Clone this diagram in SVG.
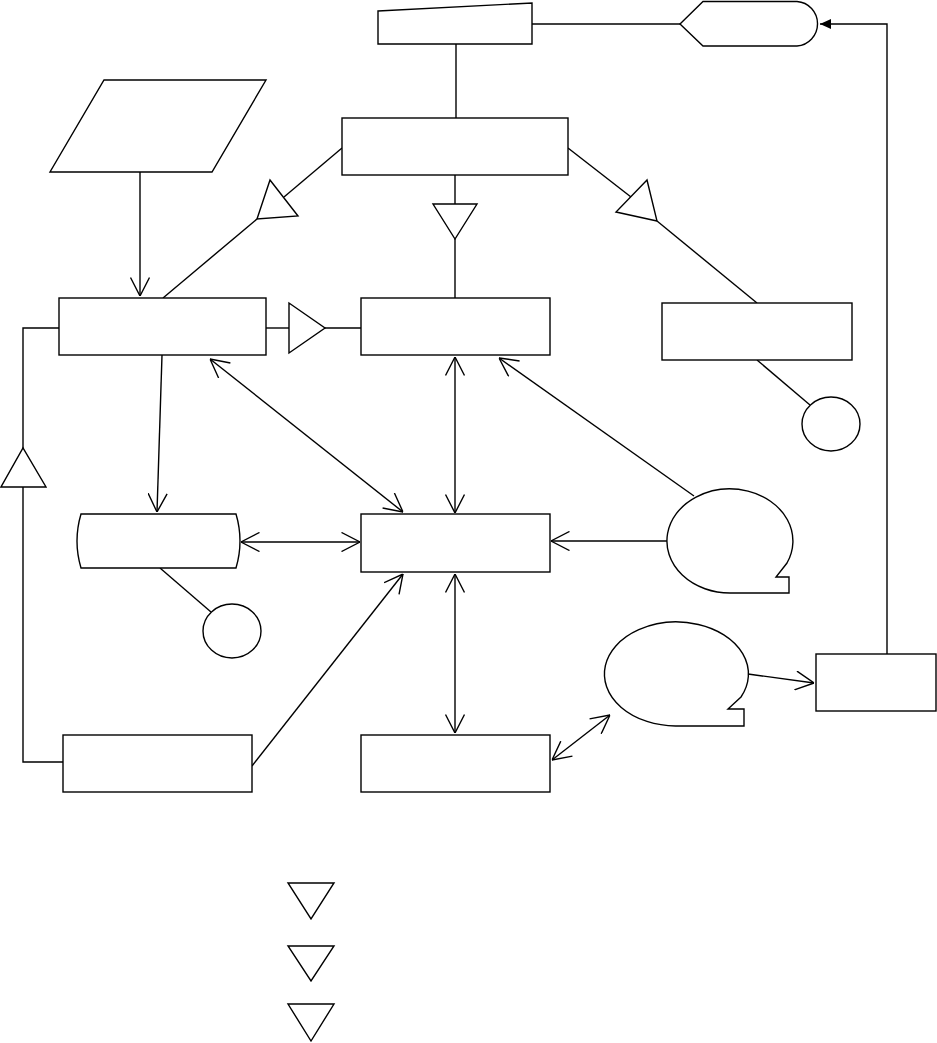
<svg xmlns="http://www.w3.org/2000/svg" width="937" height="1043" viewBox="0 0 937 1043">
<style>
.s{fill:#fff;stroke:#000;stroke-width:1.4}
.c{fill:none;stroke:#000;stroke-width:1.4}
</style>
<defs>
<marker id="a" viewBox="0 0 19 20" refX="19" refY="10" markerUnits="userSpaceOnUse" markerWidth="19" markerHeight="20" orient="auto-start-reverse">
<path d="M0.5,0.5 L19,10 L0.5,19.5" fill="none" stroke="#000" stroke-width="1.4"/>
</marker>
<marker id="f" viewBox="0 0 11 10" refX="11" refY="5" markerUnits="userSpaceOnUse" markerWidth="11" markerHeight="10" orient="auto">
<path d="M0,0 L11,5 L0,10 Z" fill="#000"/>
</marker>
</defs>
<rect width="937" height="1043" fill="#fff"/>
<g id="connectors">
<line class="c" x1="456" y1="44" x2="456" y2="118"/>
<line class="c" x1="532" y1="24" x2="680" y2="24"/>
<line class="c" x1="342" y1="148" x2="284" y2="197"/>
<line class="c" x1="257" y1="219" x2="163" y2="298"/>
<line class="c" x1="455" y1="175" x2="455" y2="204"/>
<line class="c" x1="455" y1="239" x2="455" y2="298"/>
<line class="c" x1="568" y1="148" x2="631" y2="197"/>
<line class="c" x1="657" y1="221" x2="757" y2="303"/>
<line class="c" x1="757" y1="360" x2="810" y2="405"/>
<line class="c" x1="140" y1="172" x2="140" y2="296" marker-end="url(#a)"/>
<line class="c" x1="266" y1="328" x2="289" y2="328"/>
<line class="c" x1="325" y1="328" x2="361" y2="328"/>
<polyline class="c" points="59,328 23,328 23,448"/>
<polyline class="c" points="23,487 23,762 63,762"/>
<line class="c" x1="162" y1="355" x2="157" y2="512" marker-end="url(#a)"/>
<line class="c" x1="210" y1="359" x2="403" y2="512" marker-start="url(#a)" marker-end="url(#a)"/>
<line class="c" x1="455" y1="357" x2="455" y2="513" marker-start="url(#a)" marker-end="url(#a)"/>
<line class="c" x1="694" y1="496" x2="499" y2="358" marker-end="url(#a)"/>
<line class="c" x1="241" y1="542" x2="360" y2="542" marker-start="url(#a)" marker-end="url(#a)"/>
<line class="c" x1="667" y1="541" x2="551" y2="541" marker-end="url(#a)"/>
<line class="c" x1="160" y1="568" x2="211" y2="612"/>
<line class="c" x1="252" y1="766" x2="403" y2="574" marker-end="url(#a)"/>
<line class="c" x1="455" y1="574" x2="455" y2="733" marker-start="url(#a)" marker-end="url(#a)"/>
<line class="c" x1="552" y1="760" x2="610" y2="715" marker-start="url(#a)" marker-end="url(#a)"/>
<line class="c" x1="748" y1="674" x2="814" y2="683" marker-end="url(#a)"/>
<polyline class="c" points="887,654 887,24 820,24" marker-end="url(#f)"/>
</g>
<g id="n-trapezoid"><path class="s" d="M378,11 L532,3 L532,44 L378,44 Z"/></g>
<g id="n-terminal"><path class="s" d="M680,24 L703,1.5 L797,1.5 A22,22.3 0 0 1 797,46 L703,46 Z"/></g>
<g id="n-main"><rect class="s" x="342" y="118" width="226" height="57"/></g>
<g id="n-para"><path class="s" d="M104,80 L266,80 L212,172 L50,172 Z"/></g>
<g id="n-tri-left"><path class="s" d="M270,180 L298,216 L257,219 Z"/></g>
<g id="n-tri-mid"><path class="s" d="M433,204 L477,204 L455,239 Z"/></g>
<g id="n-tri-right"><path class="s" d="M647,180 L616,212 L657,221 Z"/></g>
<g id="n-box-left"><rect class="s" x="59" y="298" width="207" height="57"/></g>
<g id="n-tri-lr"><path class="s" d="M289,303 L289,353 L325,328 Z"/></g>
<g id="n-box-mid"><rect class="s" x="361" y="298" width="189" height="57"/></g>
<g id="n-box-right"><rect class="s" x="662" y="303" width="190" height="57"/></g>
<g id="n-circle-right"><ellipse class="s" cx="831" cy="424" rx="29" ry="27"/></g>
<g id="n-tri-feedback"><path class="s" d="M1,487 L46,487 L23,448 Z"/></g>
<g id="n-barrel"><path class="s" d="M81,514 L236,514 Q244,541 236,568 L81,568 Q73,541 81,514 Z"/></g>
<g id="n-center"><rect class="s" x="361" y="514" width="189" height="58"/></g>
<g id="n-bubble1"><path class="s" d="M787,563 A63,52 0 1 0 730,593 L789,593 L789,577 L776,577 Z"/></g>
<g id="n-circle-left"><ellipse class="s" cx="232" cy="631" rx="29" ry="27"/></g>
<g id="n-bubble2"><path class="s" d="M741,697 A72,52 0 1 0 675.5,726 L744,726 L744,709 L728,709 Z"/></g>
<g id="n-box-small"><rect class="s" x="816" y="654" width="120" height="57"/></g>
<g id="n-box-bl"><rect class="s" x="63" y="735" width="189" height="57"/></g>
<g id="n-box-bc"><rect class="s" x="361" y="735" width="189" height="57"/></g>
<g id="n-legend1"><path class="s" d="M288,883 L334,883 L311,919 Z"/></g>
<g id="n-legend2"><path class="s" d="M288,946 L334,946 L311,981 Z"/></g>
<g id="n-legend3"><path class="s" d="M288,1004 L334,1004 L311,1041 Z"/></g>
</svg>
